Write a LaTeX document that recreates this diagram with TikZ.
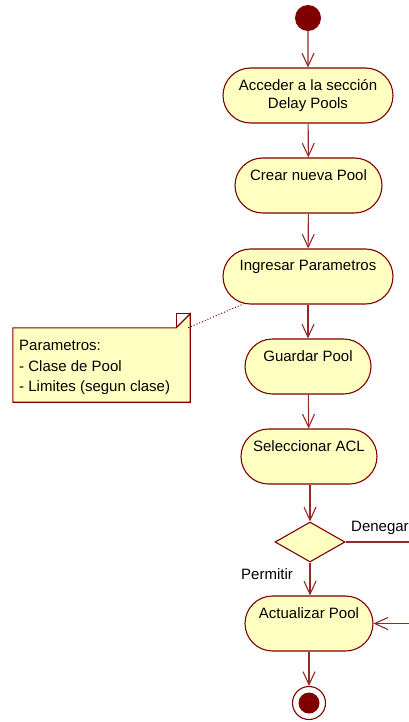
\documentclass[tikz,border=0pt]{standalone}
\usepackage{fontspec}
\setmainfont{Liberation Sans}
\usetikzlibrary{arrows.meta,shapes.misc,shapes.geometric}
\definecolor{umlfill}{RGB}{255,255,194}
\definecolor{umlline}{RGB}{128,0,0}
\definecolor{umlarrow}{RGB}{150,40,40}
\begin{document}
\begin{tikzpicture}[x=1pt,y=-1pt,
  every node/.style={font=\fontsize{15}{18.5}\selectfont},
  act/.style={rounded rectangle, draw=umlline, fill=umlfill, line width=1.1pt, minimum height=55pt, inner sep=0pt},
  tl/.style={label={[anchor=center,yshift=10pt,inner sep=0pt]center:#1}},
  flow/.style={draw=umlarrow, line width=1.1pt, -{Straight Barb[length=13pt,width=12pt]}},
]
\useasboundingbox (0,0) rectangle (409,722);
\clip (0,0) rectangle (409,722);
% start
\node[circle, fill=umlline, minimum size=26pt, inner sep=0pt] (start) at (308,18) {};
% actions
\node[act, minimum width=170pt, align=center] (n1) at (308,95.5) {Acceder a la sección\\[-1pt]Delay Pools};
\node[act, minimum width=147pt, tl={Crear nueva Pool}] (n2) at (308.5,185.5) {};
\node[act, minimum width=170pt, tl={Ingresar Parametros}] (n3) at (308,276.5) {};
\node[act, minimum width=126pt, tl={Guardar Pool}] (n4) at (308,366.5) {};
\node[act, minimum width=136pt, tl={Seleccionar ACL}] (n5) at (309,456.5) {};
\node[diamond, draw=umlline, fill=umlfill, line width=1.1pt, minimum width=70pt, minimum height=40pt, inner sep=0pt] (dec) at (310,542) {};
\node[act, minimum width=128pt, tl={Actualizar Pool}] (n6) at (309,623.5) {};
% end
\node[circle, draw=umlline, fill=white, line width=1.1pt, minimum size=33pt, inner sep=0pt] (end) at (309,703) {};
\node[circle, fill=umlline, minimum size=21pt, inner sep=0pt] (endin) at (end.center) {};
% note
\node[minimum width=177pt, minimum height=74pt, inner sep=0pt] (note) at (101.5,365) {};
\draw[umlline, fill=umlfill, line width=1.1pt]
  (note.north west) -- ([xshift=-14pt]note.north east) -- ([yshift=14pt]note.north east)
  -- (note.south east) -- (note.south west) -- cycle;
\draw[umlline, line width=1.1pt] ([xshift=-14pt]note.north east) -- ([xshift=-14pt,yshift=14pt]note.north east) -- ([yshift=14pt]note.north east);
\node[anchor=west, inner sep=0pt] (nt1) at (19,345) {Parametros:};
\node[anchor=west, inner sep=0pt] (nt2) at (19,366) {- Clase de Pool};
\node[anchor=west, inner sep=0pt] (nt3) at (19,388) {- Limites (segun clase)};
\draw[umlline, dotted, line width=1pt] ([xshift=-2pt]note.north east) -- (n3.-157);
% flows
\draw[flow] (start) -- (n1);
\draw[flow] (n1) -- (n2);
\draw[flow] (n2) -- (n3);
\draw[flow] (n3) -- (n4);
\draw[flow] (n4) -- (n5);
\draw[flow] (n5.south -| dec.north) -- (dec.north);
\draw[flow] (dec.south) -- (n6.north -| dec.south);
\draw[flow] (n6.south -| end.north) -- (end.north);
\coordinate (rt) at (440,542);
\coordinate (rb) at (440,623.5);
\draw[flow] (dec.east) -- (rt) -- (rb) -- (n6.east);
% guard labels
\node[anchor=west, inner sep=0pt] (deny) at (351,528) {Denegar};
\node[anchor=west, inner sep=0pt] (allow) at (241,574) {Permitir};
\end{tikzpicture}
\end{document}
